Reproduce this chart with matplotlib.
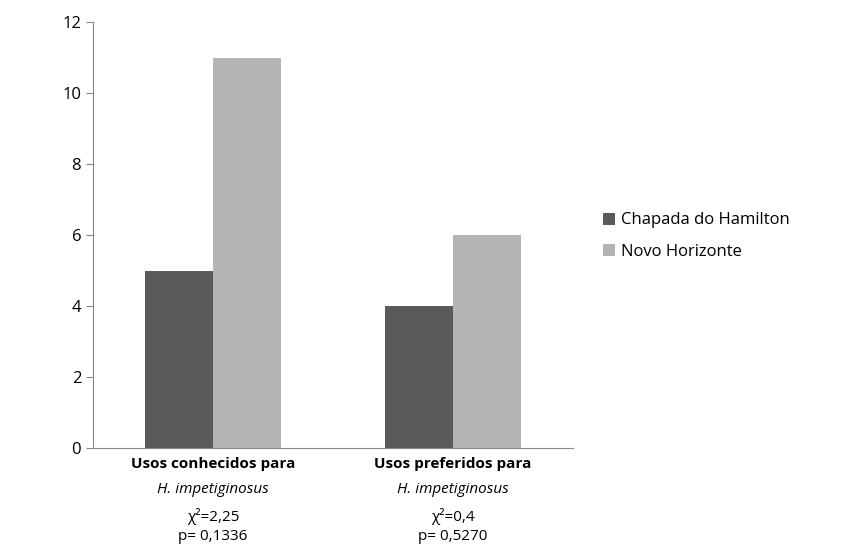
import matplotlib
matplotlib.use("Agg")
import matplotlib.pyplot as plt
import numpy as np

categories = ["Usos conhecidos para", "Usos preferidos para"]
species = ["H. impetiginosus", "H. impetiginosus"]
stats = ["χ²=2,25\np= 0,1336", "χ²=0,4\np= 0,5270"]
chapada = [5, 4]
novo = [11, 6]

plt.rcParams["font.family"] = ["Open Sans", "DejaVu Sans"]

fig = plt.figure(figsize=(8.49, 5.57), dpi=100)
ax = fig.add_axes([93 / 849, 1 - 448 / 557, 480 / 849, 426 / 557])

x = np.arange(len(categories))
w = 0.283
ax.bar(x - w / 2, chapada, w, color="#5a5a5a", label="Chapada do Hamilton")
ax.bar(x + w / 2, novo, w, color="#b4b4b4", label="Novo Horizonte")

ax.set_xlim(-0.5, 1.5)
ax.set_ylim(0, 12)
ax.set_yticks(range(0, 13, 2))
ax.tick_params(axis="y", labelsize=12, length=5, color="#888888")
ax.set_xticks([])
for s in ["top", "right"]:
    ax.spines[s].set_visible(False)
ax.spines["left"].set_color("#888888")
ax.spines["bottom"].set_color("#888888")

for i in x:
    ax.text(i, -0.25, categories[i], ha="center", va="top", fontsize=11,
            fontweight="bold", transform=ax.transData)
    ax.text(i, -0.95, species[i], ha="center", va="top", fontsize=11,
            style="italic", transform=ax.transData)
    ax.text(i, -1.7, stats[i], ha="center", va="top", fontsize=11,
            linespacing=1.3, transform=ax.transData)

ax.legend(loc="center left", bbox_to_anchor=(588 / 849, 1 - 236 / 557),
          bbox_transform=fig.transFigure, frameon=False, fontsize=12,
          handlelength=0.7, handleheight=0.7, handletextpad=0.4,
          labelspacing=0.9)

fig.savefig("out.png", dpi=100)
